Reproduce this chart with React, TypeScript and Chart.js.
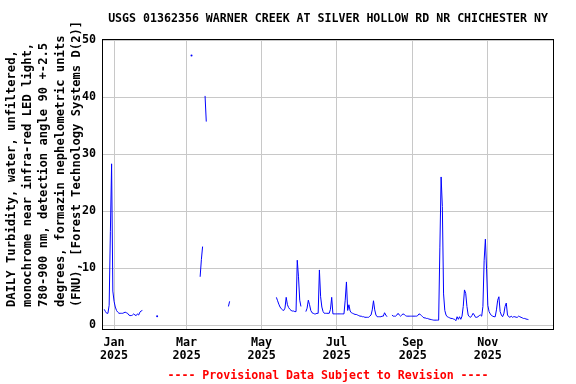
import React, { useEffect, useRef } from 'react';
import { Chart, registerables } from 'chart.js';

Chart.register(...registerables);

const TITLE = 'USGS 01362356 WARNER CREEK AT SILVER HOLLOW RD NR CHICHESTER NY';
const Y_LABEL = [
  '   DAILY Turbidity, water, unfiltered,',
  '   monochrome near infra-red LED light,',
  '   780-900 nm, detection angle 90 +-2.5',
  '   degrees, formazin nephelometric units',
  '   (FNU), [Forest Technology Systems D(2)]',
];
const FOOTER = '---- Provisional Data Subject to Revision ----';

const Y_TICKS = [0, 10, 20, 30, 40, 50];
// days since 2025-01-01
const X_TICK_DAYS = [0, 59, 120, 181, 243, 304];
const X_TICK_MONTHS = ['Jan', 'Mar', 'May', 'Jul', 'Sep', 'Nov'];
const X_TICK_YEAR = '2025';

// Segment start days (days since 2025-01-01) and daily values (FNU)
const SEG_STARTS = [-8, 35, 63, 70, 74, 93, 132, 156, 226];
const segWinter = [2.8, 2.4, 2.1, 2.1, 3.5, 16.4, 28.3, 6.0, 4.2, 3.2, 2.6, 2.3, 2.1, 2.1, 2.1, 2.1,
  2.2, 2.3, 2.2, 2.1, 1.8, 1.7, 1.7, 1.8, 2.0, 1.8, 1.7, 2.0, 1.8, 2.3, 2.5, 2.6];
const segFeb = [1.6];
const segMar1 = [47.3];
const segMar2 = [8.5, 11.5, 13.8];
const segMar3 = [40.2, 35.7];
const segApr = [3.3, 4.2];
const segMay = [4.9, 4.3, 3.7, 3.2, 2.9, 2.7, 2.6, 3.0, 4.9, 3.6, 3.1, 2.8, 2.6, 2.5, 2.5, 2.4, 2.4,
  11.4, 8.5, 4.4, 3.3];
const segJun = [2.4, 3.0, 4.4, 3.6, 2.6, 2.2, 2.1, 2.0, 2.0, 2.1, 2.1, 9.7, 5.0, 3.2, 2.4, 2.1, 2.1,
  2.1, 2.1, 2.1, 2.8, 4.9, 2.0, 2.0, 2.0, 2.0, 2.0, 2.0, 2.0, 2.0, 2.0, 2.0, 4.4, 7.6, 2.6, 3.6,
  2.5, 2.2, 2.1, 2.0, 1.9, 1.9, 1.8, 1.7, 1.6, 1.6, 1.5, 1.5, 1.4, 1.4, 1.4, 1.4, 1.6, 1.8, 2.7,
  4.3, 2.7, 1.8, 1.5, 1.5, 1.5, 1.5, 1.6, 1.6, 2.2, 1.8, 1.5];
const segAug = [1.8, 1.6, 1.6, 1.6, 1.8, 2.1, 1.8, 1.6, 1.8, 2.0, 1.9, 1.7, 1.6, 1.6, 1.6, 1.6, 1.6,
  1.6, 1.6, 1.6, 1.6, 1.7, 2.0, 1.9, 1.7, 1.5, 1.3, 1.3, 1.2, 1.2, 1.1, 1.05, 1.0, 0.95, 0.9, 0.9,
  0.9, 0.9, 0.9, 13.7, 26.0, 20.8, 5.5, 2.6, 1.8, 1.5, 1.4, 1.3, 1.2, 1.2, 1.1, 1.05, 0.8, 1.5,
  1.05, 1.5, 1.05, 1.6, 3.3, 6.2, 5.6, 3.3, 1.8, 1.5, 1.4, 1.7, 2.1, 1.8, 1.4, 1.4, 1.5, 1.7, 1.8,
  1.6, 3.3, 11.4, 15.1, 9.7, 3.5, 2.4, 2.0, 1.7, 1.6, 1.5, 1.5, 2.7, 4.4, 5.0, 2.4, 1.8, 1.5, 2.0,
  3.3, 3.9, 1.8, 1.5, 1.4, 1.6, 1.4, 1.5, 1.5, 1.4, 1.4, 1.6, 1.5, 1.4, 1.3, 1.2, 1.2, 1.1, 1.05,
  1.0];
const SEGMENTS = [segWinter, segFeb, segMar1, segMar2, segMar3, segApr, segMay, segJun, segAug];

const FONT = '"DejaVu Sans Mono", "Liberation Mono", monospace';

function buildData() {
  const pts: { x: number; y: number | null; solo?: boolean }[] = [];
  SEGMENTS.forEach((seg, si) => {
    const start = SEG_STARTS[si];
    if (si > 0) pts.push({ x: start - 0.5, y: null });
    seg.forEach((v, i) => pts.push({ x: start + i, y: v, solo: seg.length === 1 }));
  });
  return pts;
}

const framePlugin = {
  id: 'frame',
  afterDraw(chart: any) {
    const { ctx, chartArea: a } = chart;
    ctx.save();
    ctx.strokeStyle = '#000';
    ctx.lineWidth = 1;
    const l = Math.round(a.left) - 0.5;
    const t = Math.round(a.top) - 0.5;
    const r = Math.round(a.right) + 0.5;
    const b = Math.round(a.bottom) + 0.5;
    ctx.strokeRect(l, t, r - l, b - t);
    ctx.font = `bold 11.6px ${FONT}`;
    ctx.textAlign = 'center';
    ctx.textBaseline = 'middle';
    ctx.fillStyle = '#000';
    const cx = (a.left + a.right) / 2;
    ctx.fillText(TITLE, cx, 19);
    ctx.fillStyle = '#ff0000';
    ctx.fillText(FOOTER, cx, 376);
    ctx.restore();
  },
};

export default function App() {
  const ref = useRef<HTMLCanvasElement | null>(null);
  useEffect(() => {
    document.body.style.margin = '0';
    const canvas = ref.current;
    if (!canvas) return;
    const tickFont = { family: FONT, size: 11.7, weight: 'bold' as const, lineHeight: 1.15 };
    const chart = new Chart(canvas, {
      type: 'line',
      data: {
        datasets: [
          {
            data: buildData() as any,
            borderColor: '#0000ff',
            backgroundColor: '#0000ff',
            borderWidth: 1,
            tension: 0,
            fill: false,
            spanGaps: false,
            pointRadius: (c: any) => (c.raw && c.raw.solo ? 1 : 0),
            pointBorderWidth: 0,
            pointHoverRadius: 0,
          },
        ],
      },
      options: {
        animation: false,
        responsive: false,
        devicePixelRatio: 1,
        layout: { padding: { left: 0, right: 23, top: 40, bottom: 0 } },
        plugins: {
          legend: { display: false },
          tooltip: { enabled: false },
          title: { display: false },
        },
        scales: {
          x: {
            type: 'linear',
            min: -9,
            max: 357,
            afterFit: (s: any) => {
              s.height = 55;
            },
            afterBuildTicks: (s: any) => {
              s.ticks = X_TICK_DAYS.map((v) => ({ value: v }));
            },
            ticks: {
              autoSkip: false,
              maxRotation: 0,
              padding: 7,
              color: '#000',
              font: tickFont,
              callback: (v: any) => {
                const i = X_TICK_DAYS.indexOf(v);
                return i >= 0 ? [X_TICK_MONTHS[i], X_TICK_YEAR] : '';
              },
            },
            grid: { color: '#c8c8c8', lineWidth: 1, drawTicks: false, tickLength: 0 },
            border: { display: false },
          },
          y: {
            type: 'linear',
            min: -0.65,
            max: 50,
            afterFit: (s: any) => {
              s.width = 103;
            },
            afterBuildTicks: (s: any) => {
              s.ticks = Y_TICKS.map((v) => ({ value: v }));
            },
            ticks: { padding: 7, color: '#000', font: tickFont },
            grid: { color: '#c8c8c8', lineWidth: 1, drawTicks: false, tickLength: 0 },
            border: { display: false },
            title: {
              display: true,
              text: Y_LABEL,
              align: 'start',
              color: '#000',
              font: { family: FONT, size: 12.2, weight: 'bold', lineHeight: 1.32 },
              padding: { top: 4, bottom: 0 },
            },
          },
        },
      },
      plugins: [framePlugin],
    });
    return () => chart.destroy();
  }, []);
  return (
    <div style={{ width: 576, height: 384 }}>
      <canvas ref={ref} width={576} height={384} style={{ display: 'block' }} />
    </div>
  );
}
